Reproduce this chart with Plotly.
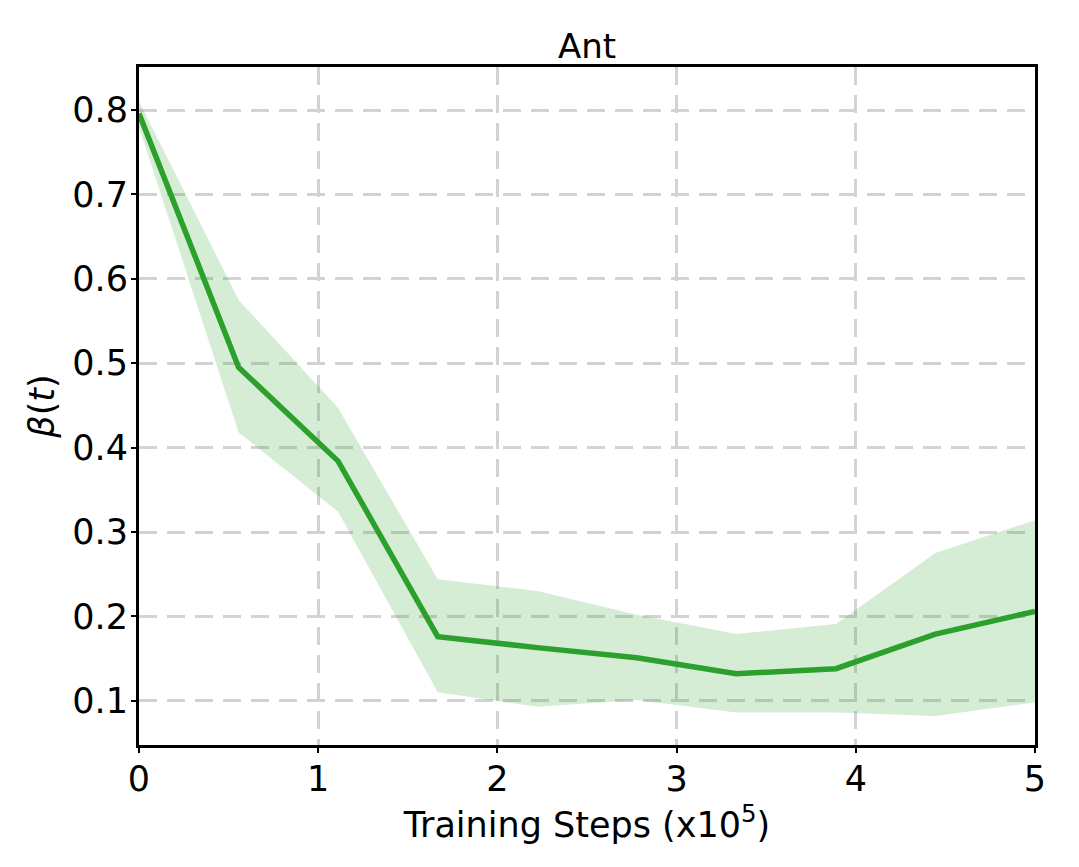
import plotly.graph_objects as go

# training steps (x1e5), 10 evaluation points
steps = [0, 0.556, 1.111, 1.667, 2.222, 2.778, 3.333, 3.889, 4.444, 5.0]
beta_mean = [0.796, 0.495, 0.384, 0.176, 0.163, 0.151, 0.132, 0.138, 0.179, 0.206]
beta_upper = [0.81, 0.575, 0.447, 0.244, 0.230, 0.202, 0.179, 0.191, 0.275, 0.314]
beta_lower = [0.78, 0.418, 0.324, 0.110, 0.093, 0.101, 0.086, 0.086, 0.082, 0.098]

green = "#2ca02c"

fig = go.Figure()
fig.add_trace(go.Scatter(x=steps, y=beta_upper, mode="lines", line=dict(width=0),
                         showlegend=False, hoverinfo="skip"))
fig.add_trace(go.Scatter(x=steps, y=beta_lower, mode="lines", line=dict(width=0),
                         fill="tonexty", fillcolor="rgba(44,160,44,0.2)",
                         showlegend=False, hoverinfo="skip"))
fig.add_trace(go.Scatter(x=steps, y=beta_mean, mode="lines",
                         line=dict(color=green, width=5.5), showlegend=False))

axis_common = dict(
    showline=True, linecolor="black", linewidth=3, mirror=True,
    ticks="outside", ticklen=5, tickwidth=1.5, tickcolor="black",
    showgrid=True, gridcolor="#d3d3d3", gridwidth=3, griddash="18px,10px",
    zeroline=False, tickfont=dict(size=35, color="black"),
    ticklabelstandoff=-4,
)

# page body has an 8px margin, so the figure is drawn slightly smaller
fig.update_layout(
    width=1063, height=851,
    paper_bgcolor="white", plot_bgcolor="white",
    font=dict(family="DejaVu Sans", color="black"),
    margin=dict(l=131, r=36, t=59, b=114),
    title=dict(text="Ant", x=0.5, xanchor="center", xref="paper",
               y=1, yref="paper", yanchor="bottom", pad=dict(b=9),
               font=dict(size=34)),
    xaxis=dict(range=[0, 5], tickvals=[0, 1, 2, 3, 4, 5],
               title=dict(text="Training Steps (x10<sup>5</sup>)", font=dict(size=35), standoff=0),
               **axis_common),
    yaxis=dict(range=[0.0476, 0.851], tickvals=[0.1, 0.2, 0.3, 0.4, 0.5, 0.6, 0.7, 0.8],
               tickformat=".1f",
               title=dict(text="<i>β</i>(<i>t</i>)", font=dict(size=35), standoff=8),
               **axis_common),
)

fig.write_html("out.html")
